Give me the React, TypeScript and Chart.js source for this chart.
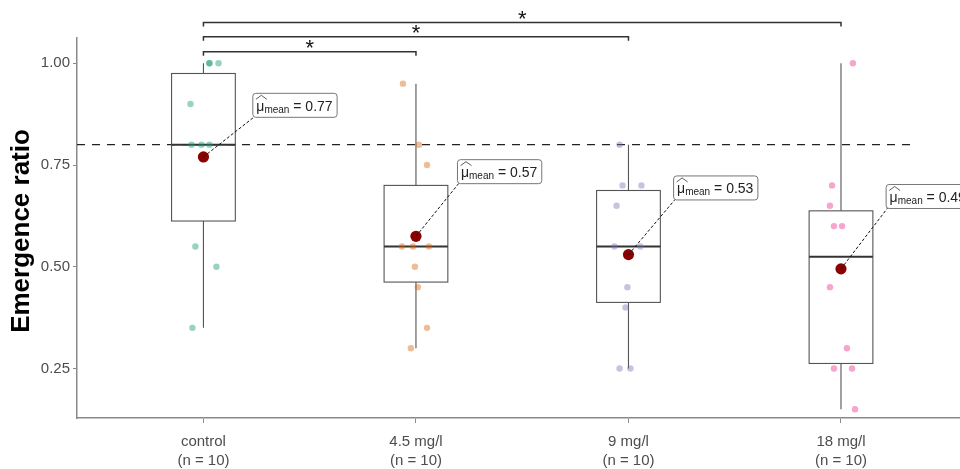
import React, { useEffect, useRef } from "react";
import { Chart, registerables } from "chart.js";

Chart.register(...registerables);

// ---------------- data ----------------
const CATEGORIES = ["control", "4.5 mg/l", "9 mg/l", "18 mg/l"];
const N_LABELS = ["(n = 10)", "(n = 10)", "(n = 10)", "(n = 10)"];

const CONTROL = [1.0, 1.0, 1.0, 0.9, 0.8, 0.8, 0.8, 0.55, 0.5, 0.35];
const MG_4_5 = [0.95, 0.8, 0.75, 0.55, 0.55, 0.55, 0.5, 0.45, 0.35, 0.3];
const MG_9 = [0.8, 0.7, 0.7, 0.65, 0.55, 0.55, 0.45, 0.4, 0.25, 0.25];
const MG_18 = [1.0, 0.7, 0.65, 0.6, 0.6, 0.45, 0.3, 0.25, 0.25, 0.15];

// horizontal jitter (in category units)
const JITTER_CONTROL = [0.028, 0.028, 0.071, -0.061, -0.056, 0.028, -0.009, -0.038, 0.061, -0.052];
const JITTER_4_5 = [-0.061, 0.014, 0.052, -0.066, -0.014, 0.061, -0.005, 0.009, 0.052, -0.024];
const JITTER_9 = [-0.042, -0.028, 0.061, -0.056, -0.066, 0.056, -0.005, -0.014, -0.042, 0.009];
const JITTER_18 = [0.056, -0.042, -0.052, -0.033, 0.005, -0.052, 0.028, -0.033, 0.052, 0.066];

const MEAN_LABELS = ["0.77", "0.57", "0.53", "0.49"];
const LABEL_X = [1.23, 2.193, 3.21, 4.21];
const LABEL_Y = [0.898, 0.735, 0.695, 0.674];

const Y_TICKS = [0.25, 0.5, 0.75, 1.0];
const REFERENCE_VALUE = 0.8;
const REFERENCE_END = 4.334;

const COMPARISON_FROM = [1, 1, 1];
const COMPARISON_TO = [2, 3, 4];
const COMPARISON_LABELS = ["*", "*", "*"];
const COMPARISON_LEVELS = [1.0285, 1.065, 1.1];

const Y_TITLE = "Emergence ratio";

const GROUPS = [CONTROL, MG_4_5, MG_9, MG_18];
const JITTERS = [JITTER_CONTROL, JITTER_4_5, JITTER_9, JITTER_18];
const COLORS = [
  "rgba(27,158,119,0.45)",
  "rgba(217,95,2,0.42)",
  "rgba(117,112,179,0.42)",
  "rgba(231,41,138,0.42)",
];

const FONT = "'Liberation Sans', Arial, Helvetica, sans-serif";

function quantile(sorted: number[], p: number) {
  const pos = (sorted.length - 1) * p;
  const lo = Math.floor(pos);
  const hi = Math.ceil(pos);
  return sorted[lo] + (sorted[hi] - sorted[lo]) * (pos - lo);
}

function boxStats(vals: number[]) {
  const s = [...vals].sort((a, b) => a - b);
  const q1 = quantile(s, 0.25);
  const med = quantile(s, 0.5);
  const q3 = quantile(s, 0.75);
  const iqr = q3 - q1;
  const lowF = q1 - 1.5 * iqr;
  const highF = q3 + 1.5 * iqr;
  const lo = Math.min(...s.filter((v) => v >= lowF));
  const hi = Math.max(...s.filter((v) => v <= highF));
  return { q1, med, q3, lo, hi };
}

const mean = (a: number[]) => a.reduce((s, v) => s + v, 0) / a.length;

const overlay = {
  id: "overlay",
  beforeDatasetsDraw(chart: any) {
    const { ctx, chartArea } = chart;
    const x = chart.scales.x;
    const y = chart.scales.y;
    ctx.save();
    // reference dashed line
    ctx.strokeStyle = "#222";
    ctx.lineWidth = 1.3;
    ctx.setLineDash([8, 7]);
    ctx.beginPath();
    const ry = y.getPixelForValue(REFERENCE_VALUE);
    ctx.moveTo(chartArea.left, ry);
    ctx.lineTo(x.getPixelForValue(REFERENCE_END), ry);
    ctx.stroke();
    ctx.setLineDash([]);

    // boxplots
    GROUPS.forEach((vals, i) => {
      const st = boxStats(vals);
      const cx = x.getPixelForValue(i + 1);
      const hw = x.getPixelForValue(i + 1 + 0.15) - cx;
      ctx.strokeStyle = "#555";
      ctx.lineWidth = 1.1;
      ctx.beginPath();
      ctx.moveTo(cx, y.getPixelForValue(st.q3));
      ctx.lineTo(cx, y.getPixelForValue(st.hi));
      ctx.moveTo(cx, y.getPixelForValue(st.q1));
      ctx.lineTo(cx, y.getPixelForValue(st.lo));
      ctx.stroke();
      const top = y.getPixelForValue(st.q3);
      const bot = y.getPixelForValue(st.q1);
      ctx.strokeRect(cx - hw, top, hw * 2, bot - top);
      ctx.strokeStyle = "#333";
      ctx.lineWidth = 2;
      ctx.beginPath();
      const my = y.getPixelForValue(st.med);
      ctx.moveTo(cx - hw, my);
      ctx.lineTo(cx + hw, my);
      ctx.stroke();
    });
    ctx.restore();
  },
  afterDatasetsDraw(chart: any) {
    const { ctx } = chart;
    const x = chart.scales.x;
    const y = chart.scales.y;
    ctx.save();
    GROUPS.forEach((vals, i) => {
      const m = mean(vals);
      const mx = x.getPixelForValue(i + 1);
      const my = y.getPixelForValue(m);
      const fMain = `14px ${FONT}`;
      const fSub = `10px ${FONT}`;
      ctx.font = fMain;
      const wMu = ctx.measureText("\u03bc").width;
      const rest = " = " + MEAN_LABELS[i];
      const wRest = ctx.measureText(rest).width;
      ctx.font = fSub;
      const wSub = ctx.measureText("mean").width;
      const padX = 4;
      const boxW = padX * 2 + wMu + wSub + wRest;
      const boxH = 24;
      const left = x.getPixelForValue(LABEL_X[i]);
      const cy = y.getPixelForValue(LABEL_Y[i]);
      const top = cy - boxH / 2;

      // connector
      ctx.strokeStyle = "#111";
      ctx.lineWidth = 1;
      ctx.setLineDash([3, 2]);
      ctx.beginPath();
      ctx.moveTo(mx, my);
      ctx.lineTo(left + 2, top + boxH);
      ctx.stroke();
      ctx.setLineDash([]);

      // box
      ctx.fillStyle = "#fff";
      ctx.strokeStyle = "#777";
      ctx.lineWidth = 1;
      ctx.beginPath();
      ctx.roundRect(left + 0.5, top + 0.5, boxW, boxH, 3);
      ctx.fill();
      ctx.stroke();

      // text
      ctx.fillStyle = "#222";
      ctx.textAlign = "left";
      ctx.textBaseline = "alphabetic";
      let tx = left + padX;
      ctx.font = fMain;
      ctx.fillText("\u03bc", tx, top + 18);
      // hat
      const hc = tx + wMu / 2 + 1;
      ctx.strokeStyle = "#333";
      ctx.lineWidth = 0.8;
      ctx.beginPath();
      ctx.moveTo(hc - 5.5, top + 6.5);
      ctx.lineTo(hc, top + 2.5);
      ctx.lineTo(hc + 5.5, top + 6.5);
      ctx.stroke();
      tx += wMu;
      ctx.font = fSub;
      ctx.fillText("mean", tx, top + 20);
      tx += wSub;
      ctx.font = fMain;
      ctx.fillText(rest, tx, top + 18);
    });
    ctx.restore();
  },
  afterDraw(chart: any) {
    const { ctx } = chart;
    const x = chart.scales.x;
    const y = chart.scales.y;
    ctx.save();
    // comparison brackets
    COMPARISON_FROM.forEach((from, k) => {
      const x1 = x.getPixelForValue(from);
      const x2 = x.getPixelForValue(COMPARISON_TO[k]);
      const by = y.getPixelForValue(COMPARISON_LEVELS[k]);
      ctx.strokeStyle = "#333";
      ctx.lineWidth = 1.5;
      ctx.beginPath();
      ctx.moveTo(x1, by + 4);
      ctx.lineTo(x1, by);
      ctx.lineTo(x2, by);
      ctx.lineTo(x2, by + 4);
      ctx.stroke();
      ctx.fillStyle = "#111";
      ctx.font = `22px ${FONT}`;
      ctx.textAlign = "center";
      ctx.textBaseline = "alphabetic";
      const mt = ctx.measureText(COMPARISON_LABELS[k]);
      const centerY = by - 7.5;
      const baseY = centerY + (mt.actualBoundingBoxAscent - mt.actualBoundingBoxDescent) / 2;
      ctx.fillText(COMPARISON_LABELS[k], (x1 + x2) / 2, baseY);
    });
    // y title
    ctx.translate(29, 231);
    ctx.rotate(-Math.PI / 2);
    ctx.fillStyle = "#000";
    ctx.font = `bold 26px ${FONT}`;
    ctx.textAlign = "center";
    ctx.textBaseline = "alphabetic";
    ctx.fillText(Y_TITLE, 0, 0);
    ctx.restore();
  },
};

export default function App() {
  const ref = useRef<HTMLCanvasElement>(null);
  useEffect(() => {
    if (!ref.current) return;
    const pointSets = GROUPS.map((vals, i) => ({
      type: "scatter" as const,
      data: vals.map((v, j) => ({ x: i + 1 + JITTERS[i][j], y: v })),
      pointRadius: 3.2,
      pointBackgroundColor: COLORS[i],
      pointBorderWidth: 0,
      order: 2,
    }));
    const meanSet = {
      type: "scatter" as const,
      data: GROUPS.map((vals, i) => ({ x: i + 1, y: mean(vals) })),
      pointRadius: 5.6,
      pointBackgroundColor: "#8b0000",
      pointBorderWidth: 0,
      order: 1,
    };
    const axisColor = "#8a8a8a";
    const chart = new Chart(ref.current, {
      type: "scatter",
      data: { datasets: [...pointSets, meanSet] as any },
      options: {
        responsive: false,
        animation: false,
        layout: { autoPadding: false, padding: { top: 38, left: 0, right: 0, bottom: 0 } },
        plugins: { legend: { display: false }, tooltip: { enabled: false } },
        scales: {
          x: {
            type: "linear",
            min: 0.405,
            max: 4.56,
            afterBuildTicks: (s: any) => {
              s.ticks = CATEGORIES.map((_, i) => ({ value: i + 1 }));
            },
            afterFit: (s: any) => {
              s.height = 51;
              s.paddingLeft = 0;
              s.paddingRight = 0;
            },
            ticks: {
              autoSkip: false,
              maxRotation: 0,
              padding: 9,
              color: "#4d4d4d",
              font: { family: FONT, size: 15, lineHeight: 1.3 },
              callback: (v: any) => {
                const i = Math.round(Number(v)) - 1;
                return [CATEGORIES[i], N_LABELS[i]];
              },
            },
            grid: { drawOnChartArea: false, tickLength: 5, color: axisColor, lineWidth: 1 },
            border: { display: true, color: axisColor, width: 1.5 },
          },
          y: {
            type: "linear",
            min: 0.1285,
            max: 1.0622,
            afterBuildTicks: (s: any) => {
              s.ticks = Y_TICKS.map((v) => ({ value: v }));
            },
            afterFit: (s: any) => {
              s.width = 77;
              s.paddingTop = 0;
              s.paddingBottom = 0;
            },
            ticks: {
              padding: 3,
              color: "#4d4d4d",
              font: { family: FONT, size: 15 },
              callback: (v: any) => Number(v).toFixed(2),
            },
            grid: { drawOnChartArea: false, tickLength: 4, color: axisColor, lineWidth: 1 },
            border: { display: true, color: axisColor, width: 1.5 },
          },
        },
      },
      plugins: [overlay],
    });
    return () => chart.destroy();
  }, []);
  return (
    <div style={{ position: "absolute", left: 0, top: 0, width: 960, height: 469, background: "#fff" }}>
      <canvas ref={ref} width={960} height={469} style={{ display: "block" }} />
    </div>
  );
}
